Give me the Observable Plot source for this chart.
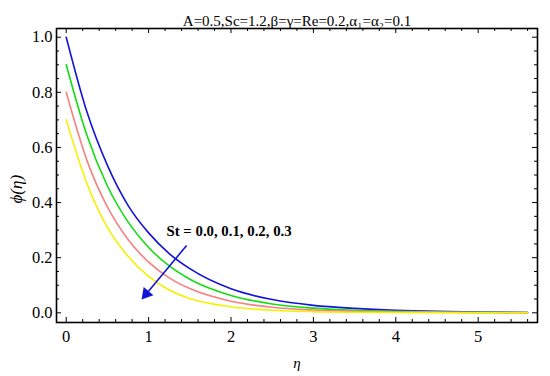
<!DOCTYPE html>
<html><head><meta charset="utf-8">
<script src="https://cdn.jsdelivr.net/npm/d3@7"></script>
<script src="https://cdn.jsdelivr.net/npm/@observablehq/plot@0.6"></script>
<style>body{margin:0;background:#fff} svg{display:block}</style>
</head><body><div id="chart"></div>
<script>
// η sample points
const eta = [0, 0.25, 0.5, 0.75, 1, 1.25, 1.5, 2, 2.5, 3, 3.5, 4, 4.5, 5, 5.6];
// φ(η) for each St
const phiSt00 = [1.0, 0.73, 0.535, 0.39, 0.29, 0.215, 0.16, 0.087, 0.048, 0.027, 0.016, 0.009, 0.005, 0.003, 0.001];
const phiSt01 = [0.9, 0.645, 0.46, 0.33, 0.237, 0.17, 0.122, 0.063, 0.032, 0.017, 0.009, 0.005, 0.003, 0.0015, 0.001];
const phiSt02 = [0.8, 0.554, 0.384, 0.266, 0.184, 0.127, 0.088, 0.042, 0.02, 0.01, 0.005, 0.003, 0.002, 0.001, 0.0005];
const phiSt03 = [0.7, 0.47, 0.31, 0.205, 0.132, 0.083, 0.052, 0.022, 0.009, 0.004, 0.002, 0.001, 0.0005, 0.0002, 0];
const stLabels = ["0.0", "0.1", "0.2", "0.3"];
const lineColors = ["#1414d8", "#14dc14", "#f58282", "#f5f000"];
const xTicks = [0, 1, 2, 3, 4, 5];
const yTicks = [0, 0.2, 0.4, 0.6, 0.8, 1.0];
const titleText = "A=0.5,Sc=1.2,β=γ=Re=0.2,α₁=α₂=0.1";
const annotText = "St = 0.0, 0.1, 0.2, 0.3";
const annotPos = {x: 1.217, y: 0.295};
const arrowPos = {x1: 1.461, y1: 0.244, x2: 0.971, y2: 0.0686};

const series = [phiSt00, phiSt01, phiSt02, phiSt03];
const rows = [];
series.forEach((arr, i) => arr.forEach((v, j) => rows.push({eta: eta[j], phi: v, st: stLabels[i]})));

const xMinor = d3.range(0.2, 5.61, 0.2).filter(v => Math.abs(v - Math.round(v)) > 1e-6);
const yMinor = d3.range(0.05, 1.001, 0.05).filter(v => Math.abs(v * 5 - Math.round(v * 5)) > 1e-6);

const W = 550, H = 376, mL = 56, mR = 13, mT = 28, mB = 54;
const fw = W - mL - mR, fh = H - mT - mB;
const font = "'Liberation Serif', 'Times New Roman', Times, serif";

const plot = Plot.plot({
  width: W, height: H,
  marginLeft: mL, marginRight: mR, marginTop: mT, marginBottom: mB,
  style: {fontFamily: font, fontSize: "16px", background: "white", color: "black"},
  x: {domain: [-0.118, 5.72]},
  y: {domain: [-0.0352, 1.0316]},
  color: {domain: stLabels, range: lineColors},
  marks: [
    Plot.line(rows, {x: "eta", y: "phi", stroke: "st", z: "st", strokeWidth: 1.6, curve: "monotone-x"}),
    // inward ticks: bottom/top
    Plot.tickX(xTicks, {x: d => d, insetTop: fh - 5, stroke: "black", strokeWidth: 1}),
    Plot.tickX(xMinor, {x: d => d, insetTop: fh - 3, stroke: "black", strokeWidth: 1}),
    Plot.tickX(xTicks, {x: d => d, insetBottom: fh - 5, stroke: "black", strokeWidth: 1}),
    Plot.tickX(xMinor, {x: d => d, insetBottom: fh - 3, stroke: "black", strokeWidth: 1}),
    // inward ticks: left/right
    Plot.tickY(yTicks, {y: d => d, insetRight: fw - 5, stroke: "black", strokeWidth: 1}),
    Plot.tickY(yMinor, {y: d => d, insetRight: fw - 3, stroke: "black", strokeWidth: 1}),
    Plot.tickY(yTicks, {y: d => d, insetLeft: fw - 5, stroke: "black", strokeWidth: 1}),
    Plot.tickY(yMinor, {y: d => d, insetLeft: fw - 3, stroke: "black", strokeWidth: 1}),
    Plot.axisX({anchor: "bottom", ticks: xTicks, tickSize: 0, tickPadding: 8, tickFormat: d => String(d), fontSize: 16.5, label: null}),
    Plot.axisY({anchor: "left", ticks: yTicks, tickSize: 0, tickPadding: 4, tickFormat: d3.format(".1f"), fontSize: 16.5, label: null}),
    Plot.frame({stroke: "black", strokeWidth: 1.6}),
    Plot.text([titleText], {frameAnchor: "top", dy: -13, text: d => d, fontSize: 15}),
    Plot.text(["ϕ(η)"], {frameAnchor: "left", dx: -40, dy: 28, rotate: -90, text: d => d, fontSize: 17, fontStyle: "italic"}),
    Plot.text(["η"], {frameAnchor: "bottom", dy: 45, text: d => d, fontSize: 15, fontStyle: "italic"}),
    Plot.text([annotText], {x: annotPos.x, y: annotPos.y, text: d => d, textAnchor: "start", fontWeight: "bold", fontSize: 14.8}),
    Plot.link([arrowPos], {x1: "x1", y1: "y1", x2: "x2", y2: "y2", stroke: "#1414d8", strokeWidth: 1.6}),
    Plot.dot([arrowPos], {x: "x2", y: "y2", symbol: "triangle", r: 4.7, fill: "#1414d8", stroke: null, rotate: -140.2})
  ]
});
document.getElementById("chart").appendChild(plot);
</script>
</body></html>
